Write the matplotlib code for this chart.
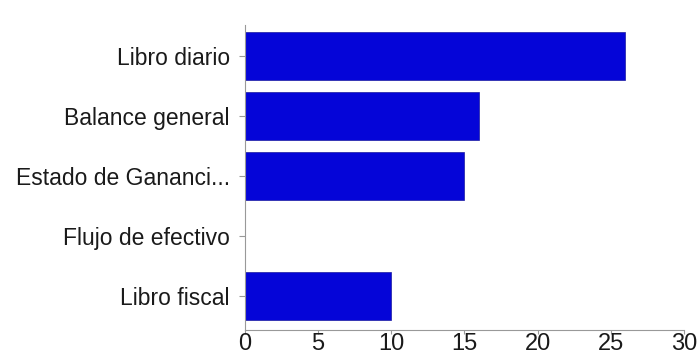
import matplotlib
matplotlib.use('Agg')
import matplotlib.pyplot as plt

categories = ['Libro diario', 'Balance general', 'Estado de Gananci...', 'Flujo de efectivo', 'Libro fiscal']
values = [26, 16, 15, 0, 10]
xticks = [0, 5, 10, 15, 20, 25, 30]

plt.rcParams['font.family'] = ['Liberation Sans', 'DejaVu Sans']

fig = plt.figure(figsize=(6.99, 3.6), dpi=100)
ax = fig.add_axes([0.3505, 0.0833, 0.628, 0.8473])

ax.barh(range(len(categories)), values, height=0.8, color='#0505d8', edgecolor='#1a1aa0', linewidth=0.5)
ax.set_yticks(range(len(categories)))
ax.set_yticklabels(categories)
ax.set_ylim(len(categories) - 1 + 0.567, -0.517)
ax.set_xlim(0, 30)
ax.set_xticks(xticks)

for s in ['top', 'right']:
    ax.spines[s].set_visible(False)
for s in ['left', 'bottom']:
    ax.spines[s].set_color('#999999')
    ax.spines[s].set_linewidth(0.8)
ax.tick_params(axis='both', colors='#999999', labelcolor='#1a1a1a', width=0.8)
ax.tick_params(axis='y', labelsize=16.5, length=4, pad=7)
ax.tick_params(axis='x', labelsize=17, length=3, pad=-1)

plt.savefig('out.png', dpi=100)
